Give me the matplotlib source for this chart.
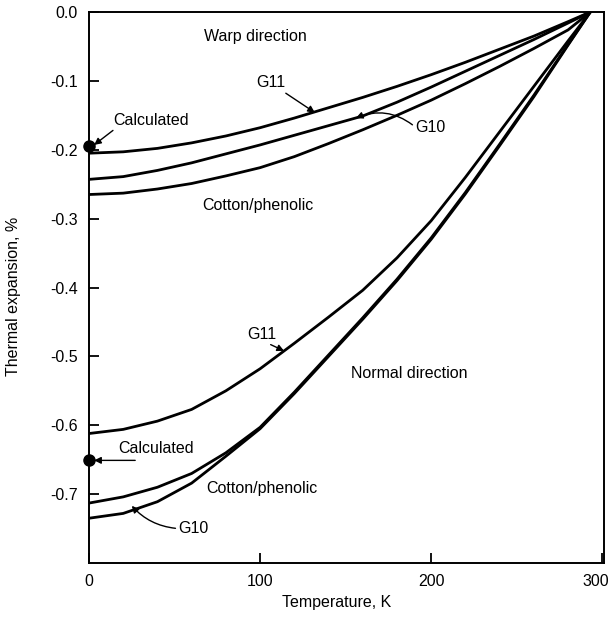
import numpy as np
import matplotlib.pyplot as plt
import matplotlib.transforms as mtransforms

plt.rcParams['font.family'] = ['Liberation Sans', 'DejaVu Sans']

temps = [0, 20, 40, 60, 80, 100, 120, 140, 160, 180, 200, 220, 240, 260, 280, 293]

# Warp direction curves (expansion %, at the temps above)
warp_g11 = [-0.205, -0.203, -0.198, -0.190, -0.180, -0.168, -0.154, -0.139,
            -0.124, -0.108, -0.091, -0.073, -0.054, -0.035, -0.014, 0.0]
warp_g10 = [-0.243, -0.239, -0.230, -0.219, -0.206, -0.193, -0.179, -0.165,
            -0.151, -0.131, -0.109, -0.086, -0.063, -0.040, -0.016, 0.0]
warp_cot = [-0.265, -0.263, -0.257, -0.249, -0.238, -0.226, -0.210, -0.191,
            -0.171, -0.150, -0.128, -0.104, -0.079, -0.053, -0.026, 0.0]

# Normal direction curves
norm_g11 = [-0.612, -0.606, -0.594, -0.577, -0.550, -0.518, -0.481, -0.443,
            -0.404, -0.357, -0.303, -0.240, -0.174, -0.108, -0.042, 0.0]
norm_cot = [-0.713, -0.704, -0.690, -0.670, -0.640, -0.603, -0.552, -0.498,
            -0.444, -0.388, -0.328, -0.262, -0.192, -0.121, -0.047, 0.0]
norm_g10 = [-0.735, -0.728, -0.711, -0.684, -0.645, -0.605, -0.554, -0.500,
            -0.446, -0.390, -0.330, -0.264, -0.194, -0.123, -0.048, 0.0]

# calculated values at 0 K
calc_t = [0, 0]
calc_y = [-0.195, -0.651]

xticks = [0, 100, 200, 300]
xtick_labels = ['0', '100', '200', '300']
yticks = [0.0, -0.1, -0.2, -0.3, -0.4, -0.5, -0.6, -0.7]
ytick_labels = ['0.0', '-0.1', '-0.2', '-0.3', '-0.4', '-0.5', '-0.6', '-0.7']

fig = plt.figure(figsize=(6.14, 6.17), dpi=100)
ax = fig.add_axes([89/614, 54/617, 515/614, 551/617])

lw = 2.0
for y in [warp_g11, warp_g10, warp_cot, norm_g11, norm_cot, norm_g10]:
    ax.plot(temps, y, color='black', lw=lw, solid_capstyle='round', solid_joinstyle='round')

ax.plot(calc_t, calc_y, 'o', color='black', ms=8, clip_on=False, zorder=5)

ax.set_xlim(0, 301)
ax.set_ylim(-0.8, 0.0)
ax.set_xticks(xticks)
ax.set_xticklabels(xtick_labels)
ax.set_yticks(yticks)
ax.set_yticklabels(ytick_labels)
ax.tick_params(direction='in', length=7, width=1.3, labelsize=11.5, pad=8)
for s in ax.spines.values():
    s.set_linewidth(1.4)

# last x label sits a little left of the spine, as in the scan
last = ax.get_xticklabels()[-1]
last.set_transform(last.get_transform() +
                   mtransforms.ScaledTranslation(-5/72, 0, fig.dpi_scale_trans))

fs = 11.5
arrow = dict(arrowstyle='-|>', color='black', lw=1.0, mutation_scale=10, shrinkA=0, shrinkB=0)

ax.text(97, -0.036, 'Warp direction', ha='center', va='center', fontsize=fs)
ax.annotate('G11', xy=(132, -0.146), xytext=(106, -0.103), ha='center', va='center',
            fontsize=fs, arrowprops=arrow)
ax.annotate('G10', xy=(156, -0.154), xytext=(199.5, -0.167), ha='center', va='center',
            fontsize=fs, arrowprops=dict(arrow, connectionstyle='arc3,rad=0.3',
                                         relpos=(0, 0.5)))
ax.annotate('Calculated', xy=(3, -0.193), xytext=(36, -0.157), ha='center', va='center',
            fontsize=fs, arrowprops=dict(arrow, relpos=(0.05, 0)))
ax.text(98.6, -0.281, 'Cotton/phenolic', ha='center', va='center', fontsize=fs)

ax.annotate('G11', xy=(114, -0.492), xytext=(101, -0.468), ha='center', va='center',
            fontsize=fs, arrowprops=dict(arrow, relpos=(0.6, 0)))
ax.text(187, -0.525, 'Normal direction', ha='center', va='center', fontsize=fs)
ax.text(39, -0.634, 'Calculated', ha='center', va='center', fontsize=fs)
ax.annotate('', xy=(3, -0.651), xytext=(27, -0.651), arrowprops=arrow)
ax.text(101, -0.692, 'Cotton/phenolic', ha='center', va='center', fontsize=fs)
ax.annotate('G10', xy=(25, -0.717), xytext=(61, -0.750), ha='center', va='center',
            fontsize=fs, arrowprops=dict(arrow, connectionstyle='arc3,rad=-0.2',
                                         relpos=(0, 0.5)))

fig.text(337/614, 15/617, 'Temperature, K', ha='center', va='center', fontsize=fs)
fig.text(14/614, 0.52, 'Thermal expansion, %', ha='center', va='center',
         rotation=90, fontsize=fs)

fig.savefig('out.png', dpi=100)
